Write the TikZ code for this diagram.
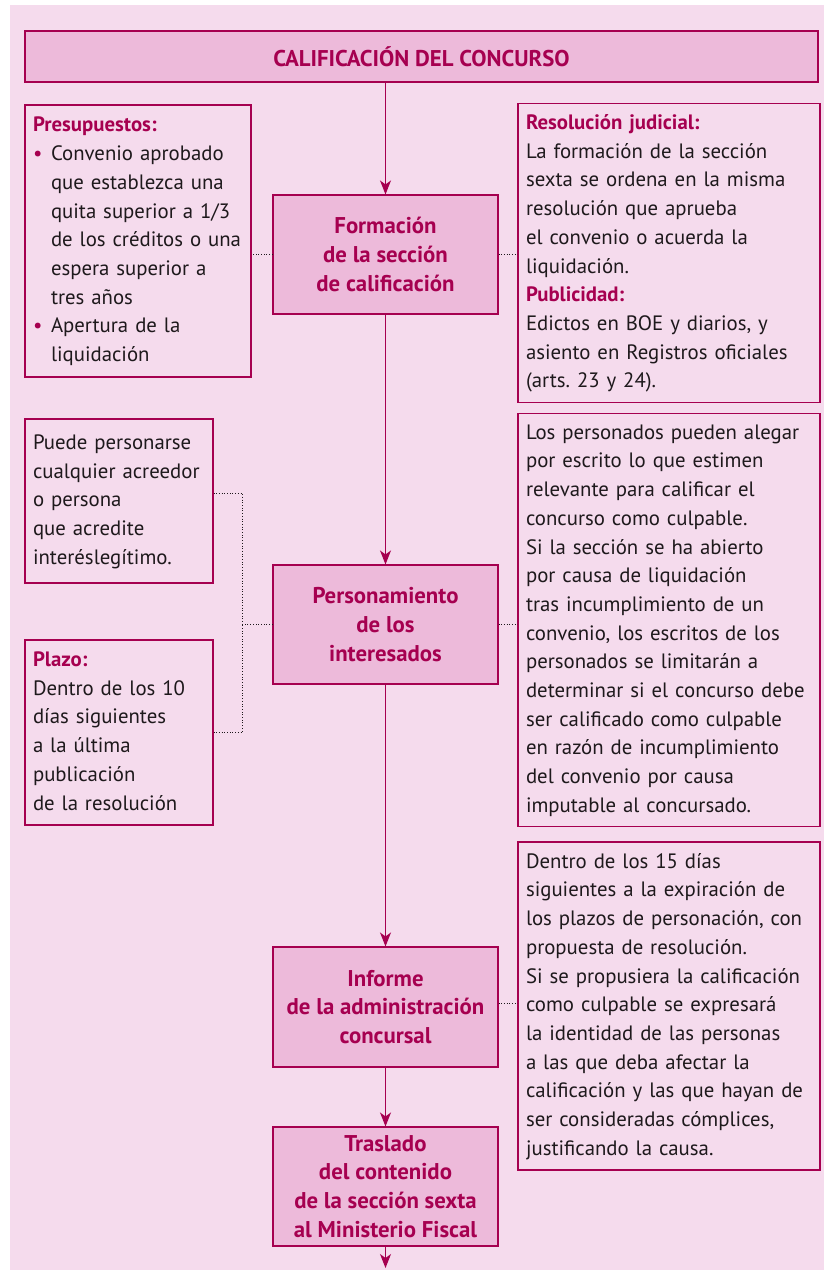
\documentclass[tikz,border=0pt]{standalone}
\usepackage{fontspec}
\setmainfont{PT Sans}
\usetikzlibrary{arrows.meta}
\definecolor{bkg}{RGB}{245, 219, 237}
\definecolor{fil}{RGB}{237, 186, 218}
\definecolor{mag}{RGB}{166, 0, 80}
\definecolor{ink}{RGB}{30, 25, 28}
\newcommand{\pbul}{\makebox[18pt][l]{\color{mag}\textbullet}}
\newcommand{\pind}{\hspace*{18pt}}
\newcommand{\notelines}[1]{\begin{tabular}{@{}l@{}}#1\end{tabular}}
\frenchspacing

\begin{document}
\begin{tikzpicture}[x=1pt, y=-1pt,
    stage/.style={draw=mag, fill=fil, line width=1.1pt, text=mag, font=\fontsize{22.8}{28.7}\selectfont\bfseries,
      align=center, minimum width=225pt, minimum height=119pt, inner sep=0pt},
    info/.style={draw=mag, line width=1.1pt, text=ink, font=\fontsize{20.8}{28.7}\selectfont, align=left,
      inner xsep=8pt, inner ysep=6pt, text width=#1},
    flow/.style={draw=mag, line width=1.2pt, -{Stealth[length=14pt, width=11pt, inset=4pt]}},
    link/.style={draw=ink, line width=0.7pt, dotted}]
      \useasboundingbox (0, 0) rectangle (824, 1270);
      \fill[bkg] (10, 5) rectangle (824, 1270);

      % central column
      \node[stage, minimum width=793pt, minimum height=51pt] (title) at (421.5, 56.5) {CALIFICACIÓN DEL CONCURSO};
      \node[stage] (form) at (385.5, 254.5) {Formación\\de la sección\\de calificación};
      \node[stage] (pers) at (385.5, 624.5) {Personamiento\\de los\\interesados};
      \node[stage, minimum height=120pt] (inf) at (385.5, 1007) {Informe\\de la administración\\concursal};
      \node[stage] (tras) at (385.5, 1186.5) {Traslado\\del contenido\\de la sección sexta\\al Ministerio Fiscal};
      \coordinate (out) at (385.5, 1268);

      % side notes
      \node[info=210pt, minimum height=272pt] (presu) at (138, 241) {\notelines{{\color{mag}\bfseries Presupuestos:}\\
        \pbul Convenio aprobado\\ \pind que establezca una\\ \pind quita superior a 1/3\\ \pind de los créditos o una\\
        \pind espera superior a\\ \pind tres años\\ \pbul Apertura de la\\ \pind liquidación}};
      \node[info=286pt, minimum height=298pt] (resol) at (669, 253) {\notelines{{\color{mag}\bfseries Resolución judicial:}\\
        La formación de la sección\\ sexta se ordena en la misma\\ resolución que aprueba\\ el convenio o acuerda la\\ liquidación.\\
        {\color{mag}\bfseries Publicidad:}\\ Edictos en BOE y diarios, y\\ asiento en Registros oficiales\\ (arts. 23 y 24).}};
      \node[info=172pt, minimum height=164pt] (puede) at (119, 501) {\notelines{Puede personarse\\ cualquier acreedor\\ o persona\\
        que acredite\\ interéslegítimo.}};
      \node[info=172pt, minimum height=185pt] (plazo) at (119, 732.5) {\notelines{{\color{mag}\bfseries Plazo:}\\
        Dentro de los 10\\ días siguientes\\ a la última\\ publicación\\ de la resolución}};
      \node[info=286pt, minimum height=410pt] (alegar) at (669, 620) {\notelines{Los personados pueden alegar\\ por escrito lo que estimen\\
        relevante para calificar el\\ concurso como culpable.\\ Si la sección se ha abierto\\ por causa de liquidación\\
        tras incumplimiento de un\\ convenio, los escritos de los\\ personados se limitarán a\\ determinar si el concurso debe\\
        ser calificado como culpable\\ en razón de incumplimiento\\ del convenio por causa\\ imputable al concursado.}};
      \node[info=286pt, minimum height=328pt] (quince) at (669, 1006) {\notelines{Dentro de los 15 días\\ siguientes a la expiración de\\
        los plazos de personación, con\\ propuesta de resolución.\\ Si se propusiera la calificación\\ como culpable se expresará\\
        la identidad de las personas\\ a las que deba afectar la\\ calificación y las que hayan de\\ ser consideradas cómplices,\\
        justificando la causa.}};
      \coordinate (join) at (242, 624.5);

      % arrows
      \draw[flow] (title.south -| form) -- (form);
      \draw[flow] (form) -- (pers);
      \draw[flow] (pers) -- (inf);
      \draw[flow] (inf) -- (tras);
      \draw[flow] (tras) -- (out);

      % dotted links
      \draw[link] (form.west) -- (form.west -| presu.east);
      \draw[link] (form.east) -- (form.east -| resol.west);
      \draw[link] ([yshift=8pt]puede.east) -| (join);
      \draw[link] (plazo.east) -| (join);
      \draw[link] (pers.west) -- (join);
      \draw[link] (pers.east) -- (pers.east -| alegar.west);
      \draw[link] ([yshift=4pt]inf.east) -- ([yshift=4pt]inf.east -| quince.west);
    \end{tikzpicture}
\end{document}
